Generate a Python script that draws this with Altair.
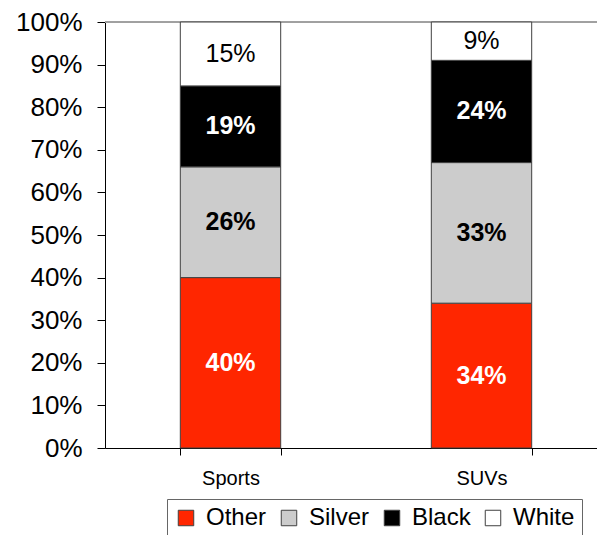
import altair as alt
import pandas as pd

categories = ["Sports", "SUVs"]
color_names = ["Other", "Silver", "Black", "White"]
sports_values = [40, 26, 19, 15]
suvs_values = [34, 33, 24, 9]
y_ticks = [0, 10, 20, 30, 40, 50, 60, 70, 80, 90, 100]

fills = ["#FF2600", "#CCCCCC", "#000000", "#FFFFFF"]

rows = []
for cat, vals in zip(categories, [sports_values, suvs_values]):
    for i, (c, v) in enumerate(zip(color_names, vals)):
        rows.append({"type": cat, "color": c, "value": v, "order": i})
df = pd.DataFrame(rows)

FONT = "Liberation Sans"

x_enc = alt.X(
    "type:N",
    sort=categories,
    scale=alt.Scale(range=[0, 502], paddingInner=0.6, paddingOuter=0.3),
    axis=alt.Axis(
        title=None, labelAngle=0, labelFontSize=20, labelFont=FONT,
        labelColor="black", domainColor="black", tickColor="black",
        tickSize=7, tickBand="extent", labelPadding=13,
    ),
)

y_axis = alt.Axis(
    values=y_ticks, labelExpr="datum.value + '%'", title=None, grid=False,
    tickSize=8, labelPadding=15, labelFontSize=26, labelFont=FONT,
    labelColor="black", domainColor="black", tickColor="black",
)

base = alt.Chart(df)

bars = base.mark_bar(stroke="#404040", strokeWidth=1).encode(
    x=x_enc,
    y=alt.Y("value:Q", stack="zero", scale=alt.Scale(domain=[0, 100]), axis=y_axis),
    color=alt.Color(
        "color:N",
        scale=alt.Scale(domain=color_names, range=fills),
        legend=alt.Legend(
            title=None, orient="none", direction="horizontal",
            legendX=62, legendY=477, symbolType="square", symbolSize=240,
            symbolStrokeWidth=1, labelFontSize=24, labelFont=FONT,
            labelColor="black", labelOffset=8, columnPadding=10, padding=7,
            strokeColor="#666666", fillColor="white",
        ),
    ),
    order=alt.Order("order:Q"),
)

top_rule = alt.Chart(df).mark_rule(color="#A0A0A0", strokeWidth=1).encode(
    y=alt.datum(100), x=alt.value(0), x2=alt.value(492)
)

stacked = base.transform_stack(
    stack="value", as_=["v0", "v1"], groupby=["type"], sort=[alt.SortField("order")]
).transform_calculate(
    mid="(datum.v0 + datum.v1) / 2", label="datum.value + '%'"
)

def text_layer(names, color, weight):
    return stacked.transform_filter(
        alt.FieldOneOfPredicate(field="color", oneOf=names)
    ).mark_text(
        color=color, fontWeight=weight, fontSize=25, font=FONT, baseline="middle"
    ).encode(
        x=alt.X("type:N", sort=categories),
        y=alt.Y("mid:Q"),
        text="label:N",
    )

t1 = text_layer(["Other", "Black"], "white", "bold")
t2 = text_layer(["Silver"], "black", "bold")
t3 = text_layer(["White"], "black", "normal")

chart = alt.layer(top_rule, bars, t1, t2, t3).properties(
    width=492, height=426,
    autosize=alt.AutoSizeParams(type="none"),
    padding={"left": 105, "top": 22, "right": 0, "bottom": 87},
).configure_view(stroke=None)

chart.save("out.html", embed_options={"renderer": "svg", "actions": False})
